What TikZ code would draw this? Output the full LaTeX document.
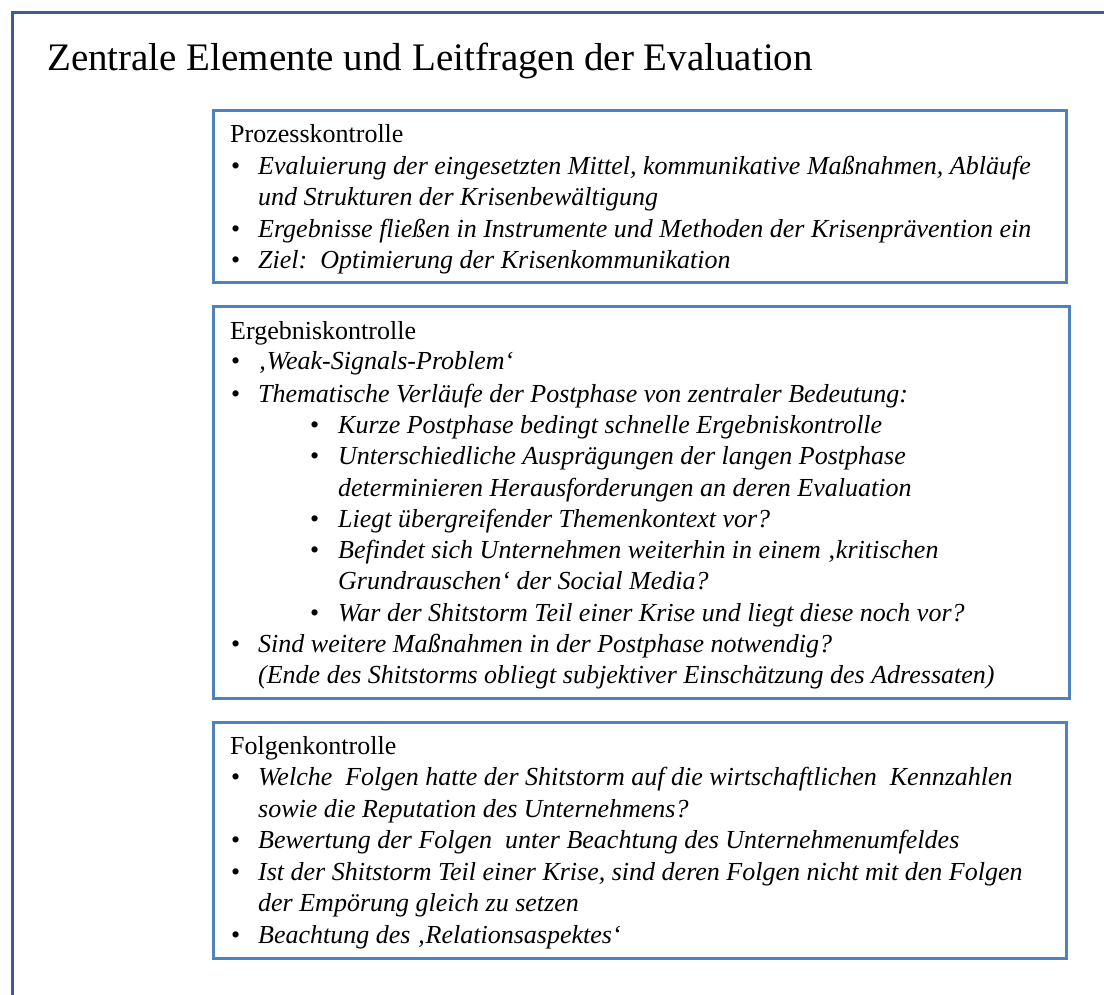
\documentclass[tikz,border=0pt]{standalone}
\usepackage{fontspec}
\setmainfont{Liberation Serif}
\definecolor{framedark}{HTML}{3B5E8C}
\definecolor{boxblue}{HTML}{4F81BD}
\newcommand{\bodysize}{\fontsize{26}{31}\selectfont}
\tikzset{
  head/.style={anchor=base west, inner sep=0pt, font=\bodysize},
  item/.style={anchor=base west, inner sep=0pt, font=\bodysize\itshape},
  dot/.style={anchor=base west, inner sep=0pt, font=\bodysize},
  panel/.style={draw=boxblue, line width=3pt},
}
\begin{document}
\begin{tikzpicture}[x=1pt, y=-1pt]
\useasboundingbox (0,0) rectangle (1104,995);
% outer frame
\draw[framedark, line width=3pt] (12.5,995) -- (12.5,12.5) -- (1104,12.5);
% title
\node[anchor=base west, inner sep=0pt, font=\fontsize{39}{45}\selectfont] (title) at (47,71)
  {Zentrale Elemente und Leitfragen der Evaluation};

% ---------- Prozesskontrolle ----------
\draw[panel] (213,111) rectangle (1066,283);
\node[head] (p0) at (230,143) {Prozesskontrolle};
\node[dot] (pb1) at (231,175) {•};
\node[item] (p1) at (258,175) {Evaluierung der eingesetzten Mittel, kommunikative Maßnahmen, Abläufe};
\node[item] (p1b) at (258,206) {und Strukturen der Krisenbewältigung};
\node[dot] (pb2) at (231,238) {•};
\node[item] (p2) at (258,238) {Ergebnisse fließen in Instrumente und Methoden der Krisenprävention ein};
\node[dot] (pb3) at (231,269) {•};
\node[item] (p3) at (258,269) {Ziel:\ \ Optimierung der Krisenkommunikation};

% ---------- Ergebniskontrolle ----------
\draw[panel] (213,307) rectangle (1069,698);
\node[head] (e0) at (230,339) {Ergebniskontrolle};
\node[dot] (eb1) at (231,370) {•};
\node[item] (e1) at (258,370) {‚Weak-Signals-Problem‘};
\node[dot] (eb2) at (231,402) {•};
\node[item] (e2) at (258,402) {Thematische Verläufe der Postphase von zentraler Bedeutung:};
\node[dot] (es1) at (310,433) {•};
\node[item] (e3) at (338,433) {Kurze Postphase bedingt schnelle Ergebniskontrolle};
\node[dot] (es2) at (310,464) {•};
\node[item] (e4) at (338,464) {Unterschiedliche Ausprägungen der langen Postphase};
\node[item] (e4b) at (338,496) {determinieren Herausforderungen an deren Evaluation};
\node[dot] (es3) at (310,527) {•};
\node[item] (e5) at (338,527) {Liegt übergreifender Themenkontext vor?};
\node[dot] (es4) at (310,558) {•};
\node[item] (e6) at (338,558) {Befindet sich Unternehmen weiterhin in einem ‚kritischen};
\node[item] (e6b) at (338,589) {Grundrauschen‘ der Social Media?};
\node[dot] (es5) at (310,621) {•};
\node[item] (e7) at (338,621) {War der Shitstorm Teil einer Krise und liegt diese noch vor?};
\node[dot] (eb3) at (231,652) {•};
\node[item] (e8) at (258,652) {Sind weitere Maßnahmen in der Postphase notwendig?};
\node[item] (e8b) at (258,683) {(Ende des Shitstorms obliegt subjektiver Einschätzung des Adressaten)};

% ---------- Folgenkontrolle ----------
\draw[panel] (213,722) rectangle (1066,958);
\node[head] (f0) at (230,754) {Folgenkontrolle};
\node[dot] (fb1) at (231,785) {•};
\node[item] (f1) at (258,785) {Welche\ \ Folgen hatte der Shitstorm auf die wirtschaftlichen\ \ Kennzahlen};
\node[item] (f1b) at (258,817) {sowie die Reputation des Unternehmens?};
\node[dot] (fb2) at (231,848) {•};
\node[item] (f2) at (258,848) {Bewertung der Folgen\ \ unter Beachtung des Unternehmenumfeldes};
\node[dot] (fb3) at (231,880) {•};
\node[item] (f3) at (258,880) {Ist der Shitstorm Teil einer Krise, sind deren Folgen nicht mit den Folgen};
\node[item] (f3b) at (258,911) {der Empörung gleich zu setzen};
\node[dot] (fb4) at (231,943) {•};
\node[item] (f4) at (258,943) {Beachtung des ‚Relationsaspektes‘};
\end{tikzpicture}
\end{document}
